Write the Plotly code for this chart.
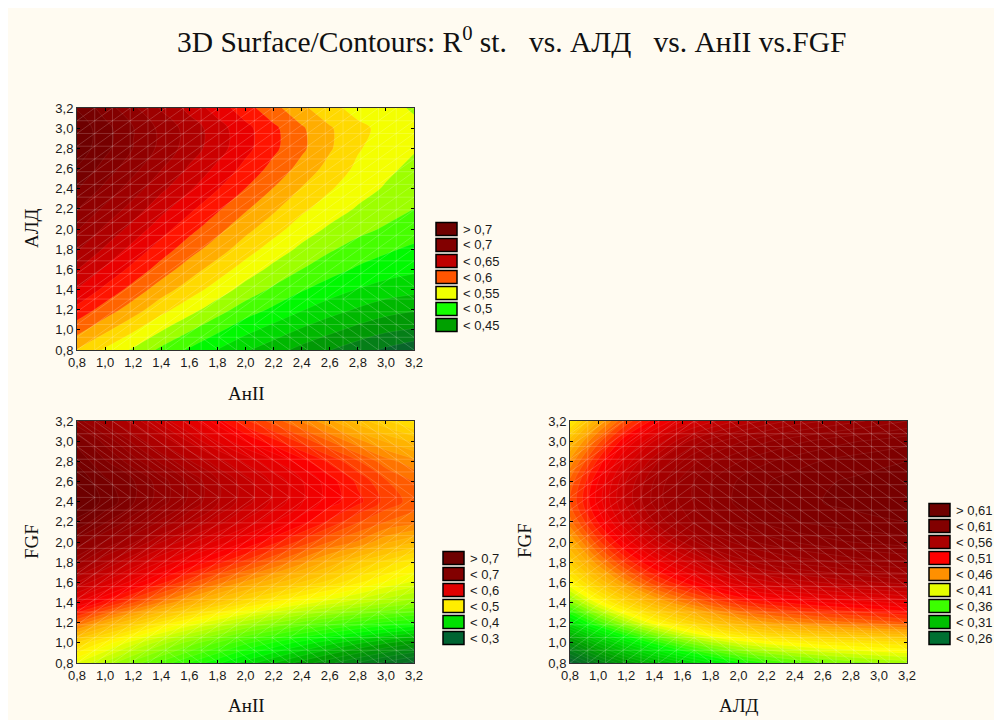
import numpy as np
import plotly.graph_objects as go

AXIS_VALUES = [0.8, 1.0, 1.2, 1.4, 1.6, 1.8, 2.0, 2.2, 2.4, 2.6, 2.8, 3.0, 3.2]
ROWS_TOP_DOWN = AXIS_VALUES[::-1]

Z_ALD_ANII = [
    [.715, .692, .670, .648, .628, .609, .59, .572, .554, .538, .528, .521, .515],
    [.729, .706, .684, .662, .643, .624, .605, .587, .569, .552, .537, .529, .52],
    [.728, .705, .683, .662, .642, .624, .605, .587, .570, .552, .535, .525, .518],
    [.715, .693, .672, .651, .631, .613, .595, .578, .561, .544, .530, .520, .513],
    [.701, .679, .658, .637, .619, .601, .583, .566, .549, .535, .523, .515, .508],
    [.684, .663, .643, .622, .604, .586, .569, .553, .537, .525, .515, .507, .50],
    [.668, .647, .627, .607, .589, .572, .555, .540, .525, .514, .505, .498, .492],
    [.652, .631, .611, .592, .574, .558, .541, .526, .513, .502, .493, .486, .48],
    [.634, .614, .595, .576, .558, .542, .526, .512, .50, .49, .481, .475, .47],
    [.616, .596, .577, .558, .542, .526, .51, .497, .485, .475, .466, .459, .455],
    [.595, .576, .558, .539, .523, .507, .492, .48, .468, .457, .448, .44, .435],
    [.573, .554, .536, .518, .502, .487, .472, .46, .448, .438, .428, .42, .415],
    [.549, .531, .514, .496, .481, .466, .452, .44, .428, .417, .407, .397, .388],
]
Z_FGF_ANII = [
    [.69, .672, .655, .637, .62, .60, .58, .565, .55, .535, .52, .507, .495],
    [.71, .692, .675, .657, .64, .622, .605, .59, .575, .56, .545, .532, .522],
    [.72, .705, .69, .675, .66, .645, .63, .615, .60, .585, .57, .555, .545],
    [.73, .715, .705, .69, .675, .66, .645, .63, .615, .60, .585, .57, .56],
    [.73, .72, .705, .69, .675, .66, .645, .63, .615, .60, .59, .575, .565],
    [.72, .705, .69, .675, .66, .645, .63, .615, .60, .585, .57, .56, .555],
    [.70, .685, .67, .65, .635, .62, .605, .59, .575, .56, .55, .535, .525],
    [.68, .66, .64, .622, .605, .59, .575, .56, .545, .53, .515, .503, .49],
    [.65, .63, .61, .59, .572, .555, .54, .527, .515, .503, .49, .478, .468],
    [.615, .592, .57, .55, .532, .516, .50, .487, .475, .465, .455, .445, .437],
    [.56, .535, .515, .495, .478, .462, .447, .435, .423, .413, .404, .396, .39],
    [.505, .485, .465, .447, .43, .415, .40, .388, .376, .365, .355, .345, .337],
    [.47, .45, .43, .413, .397, .382, .367, .353, .34, .328, .316, .305, .295],
]
Z_FGF_ALD = [
    [.43, .47, .502, .526, .545, .558, .568, .577, .585, .59, .595, .60, .605],
    [.46, .497, .53, .553, .572, .586, .596, .604, .61, .615, .619, .622, .625],
    [.48, .517, .548, .572, .59, .603, .612, .619, .624, .628, .631, .633, .635],
    [.495, .53, .56, .583, .60, .612, .621, .627, .631, .634, .636, .638, .639],
    [.50, .533, .562, .585, .60, .613, .622, .628, .632, .635, .637, .638, .639],
    [.49, .523, .552, .575, .593, .606, .616, .622, .627, .63, .632, .634, .635],
    [.47, .505, .533, .557, .575, .59, .60, .608, .613, .617, .62, .622, .624],
    [.45, .482, .51, .532, .55, .566, .578, .586, .592, .596, .60, .603, .605],
    [.425, .455, .482, .505, .522, .537, .55, .558, .564, .568, .572, .575, .578],
    [.39, .42, .445, .467, .485, .50, .512, .52, .525, .53, .533, .536, .54],
    [.345, .375, .40, .422, .44, .455, .467, .476, .483, .488, .492, .496, .50],
    [.29, .32, .345, .367, .385, .40, .412, .42, .425, .43, .432, .435, .437],
    [.25, .275, .297, .316, .333, .348, .362, .372, .38, .386, .391, .395, .398],
]

RAMP = ["#0a5a32", "#00a000", "#00ff00", "#ffff00", "#ffa500", "#ff0000", "#a80000", "#6e0000"]
STOPS_TOP = [.385, .43, .48, .53, .565, .60, .65, .725]
STOPS_BL = [.285, .34, .38, .48, .54, .60, .67, .73]
STOPS_BR = [.245, .30, .36, .42, .475, .525, .58, .65]

LEG_TOP = ["> 0,7", "< 0,7", "< 0,65", "< 0,6", "< 0,55", "< 0,5", "< 0,45"]
LEGC_TOP = ["#6e0000", "#820000", "#c00000", "#ff5500", "#f0ff00", "#14ff00", "#00a000"]
LEG_BL = ["> 0,7", "< 0,7", "< 0,6", "< 0,5", "< 0,4", "< 0,3"]
LEGC_BL = ["#6e0000", "#820000", "#e00000", "#ffee00", "#00e000", "#006432"]
LEG_BR = ["> 0,61", "< 0,61", "< 0,56", "< 0,51", "< 0,46", "< 0,41", "< 0,36", "< 0,31", "< 0,26"]
LEGC_BR = ["#6e0000", "#820000", "#aa0000", "#ff0000", "#ff9000", "#e6ff00", "#3cff00", "#00c000", "#007032"]

TITLE = ("3D Surface/Contours: R<sup>0</sup> st.\u00a0\u00a0\u00a0vs. АЛД\u00a0\u00a0\u00a0vs. АнII vs.FGF")
CREAM = "#fffbf1"
W, H = 986, 712   # page body margin supplies the white 8 px strip
OFF = 8


def px(x):
    return (x - OFF) / W


def py(y):
    return 1 - (y - OFF) / H


def scale(stops):
    lo, hi = stops[0], stops[-1]
    return [[(s - lo) / (hi - lo), c] for s, c in zip(stops, RAMP)], lo, hi


def mesh(rule):
    g = np.linspace(0.8, 3.2, 20)
    xs, ys = [], []
    for v in g[1:-1]:
        xs += [v, v, None]
        ys += [0.8, 3.2, None]
        xs += [0.8, 3.2, None]
        ys += [v, v, None]
    for i in range(19):
        for j in range(19):
            a, b, c, d = g[i], g[i + 1], g[j], g[j + 1]
            if rule((a + b) / 2, (c + d) / 2):
                xs += [a, b, None]
                ys += [c, d, None]
            else:
                xs += [a, b, None]
                ys += [d, c, None]
    return xs, ys


def rule_top(x, y):
    return not (y < 0.8 + (x - 1.5) * 0.45)


def rule_bl(x, y):
    if y > 2.45:
        return False
    return not (y < 0.8 + (x - 1.2) * 0.25)


def rule_br(x, y):
    return x < 1.7


PANELS = [
    dict(z=Z_ALD_ANII, st=STOPS_TOP, size=1 / 60, rule=rule_top, xa="x", ya="y",
         box=(77, 414, 108, 350), xt="АнII", yt="АЛД", xtp=(246, 393), ytp=(32, 228),
         leg=LEG_TOP, legc=LEGC_TOP, lx=436, ly=229),
    dict(z=Z_FGF_ANII, st=STOPS_BL, size=0.009, rule=rule_bl, xa="x2", ya="y2",
         box=(77, 414, 421, 663), xt="АнII", yt="FGF", xtp=(246, 705), ytp=(31, 542),
         leg=LEG_BL, legc=LEGC_BL, lx=443, ly=558),
    dict(z=Z_FGF_ALD, st=STOPS_BR, size=0.0075, rule=rule_br, xa="x3", ya="y3",
         box=(570, 907, 421, 663), xt="АЛД", yt="FGF", xtp=(739, 705), ytp=(524, 541),
         leg=LEG_BR, legc=LEGC_BR, lx=929, ly=510),
]

fig = go.Figure()
shapes, annotations = [], []
layout_axes = {}
TICK_FONT = dict(family="Liberation Sans, Arial, sans-serif", size=13, color="#1a1a1a")
LABEL_FONT = dict(family="Liberation Serif, Times New Roman, serif", size=19, color="#111111")

for k, p in enumerate(PANELS):
    cs, lo, hi = scale(p["st"])
    fig.add_trace(go.Contour(
        x=AXIS_VALUES, y=ROWS_TOP_DOWN, z=p["z"], xaxis=p["xa"], yaxis=p["ya"],
        colorscale=cs, zmin=lo, zmax=hi, showscale=False, hoverinfo="skip",
        contours=dict(coloring="fill", start=0.2, end=0.8, size=p["size"]),
        line=dict(color="rgba(255,255,255,0.13)", width=0.6, smoothing=1),
    ))
    mx, my = mesh(p["rule"])
    fig.add_trace(go.Scatter(
        x=mx, y=my, mode="lines", xaxis=p["xa"], yaxis=p["ya"], showlegend=False,
        hoverinfo="skip", line=dict(color="rgba(255,255,255,0.18)", width=1),
    ))
    x0, x1, y0, y1 = p["box"]
    sfx = "" if k == 0 else str(k + 1)
    common = dict(range=[0.8, 3.2], dtick=0.2, tick0=0.8, tickformat=".1f", ticks="inside",
                  ticklen=3, tickcolor="#000000", tickwidth=1, showline=True,
                  linecolor="#303030", linewidth=1, mirror="ticks", showgrid=False,
                  zeroline=False, tickfont=TICK_FONT, automargin=False)
    layout_axes["xaxis" + sfx] = dict(common, domain=[px(x0), px(x1)], anchor="y" + sfx)
    layout_axes["yaxis" + sfx] = dict(common, domain=[py(y1), py(y0)], anchor="x" + sfx)
    annotations.append(dict(text=p["xt"], xref="paper", yref="paper", showarrow=False,
                            x=px(p["xtp"][0]), y=py(p["xtp"][1]), xanchor="center",
                            yanchor="middle", font=LABEL_FONT))
    annotations.append(dict(text=p["yt"], xref="paper", yref="paper", showarrow=False,
                            x=px(p["ytp"][0]), y=py(p["ytp"][1]), xanchor="center",
                            yanchor="middle", textangle=-90, font=LABEL_FONT))
    for i, (lab, col) in enumerate(zip(p["leg"], p["legc"])):
        yc = p["ly"] + 16 * i
        shapes.append(dict(type="rect", xref="paper", yref="paper",
                           x0=px(p["lx"]), x1=px(p["lx"] + 21),
                           y0=py(yc + 6.5), y1=py(yc - 6.5),
                           fillcolor=col, line=dict(color="#000000", width=1.5)))
        annotations.append(dict(text=lab, xref="paper", yref="paper", showarrow=False,
                                x=px(p["lx"] + 25), y=py(yc), xanchor="left", yanchor="middle",
                                font=dict(family="Liberation Sans, Arial, sans-serif",
                                          size=13, color="#1a1a1a")))

annotations.append(dict(text=TITLE, xref="paper", yref="paper", showarrow=False,
                        x=px(511), y=py(40), xanchor="center", yanchor="middle",
                        font=dict(family="Liberation Serif, Times New Roman, serif",
                                  size=29.5, color="#111111")))

fig.update_layout(
    width=W, height=H, margin=dict(l=0, r=0, t=0, b=0),
    paper_bgcolor=CREAM, plot_bgcolor=CREAM, separators=", ",
    showlegend=False, shapes=shapes, annotations=annotations, **layout_axes,
)
fig.write_html("out.html", config=dict(displayModeBar=False),
               default_width=f"{W}px", default_height=f"{H}px",
               post_script="document.documentElement.style.overflow='hidden';"
                           "document.body.style.margin='8px 0 0 8px';")
